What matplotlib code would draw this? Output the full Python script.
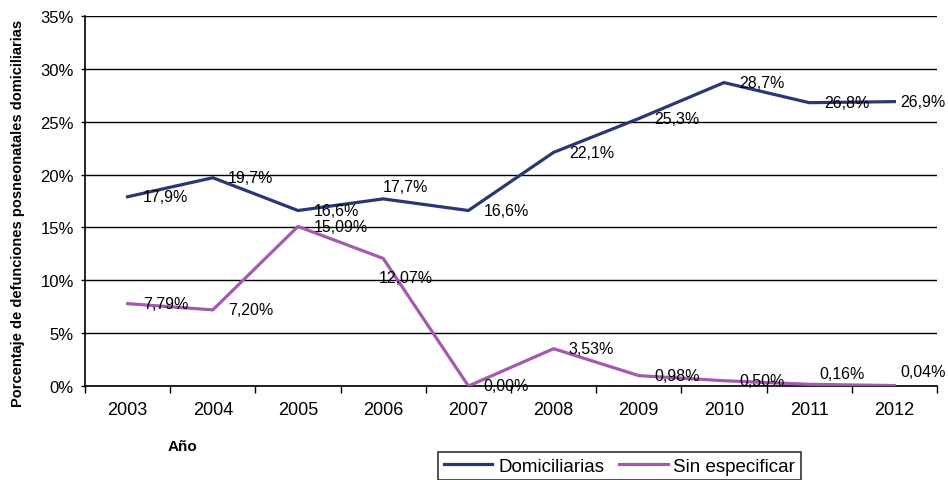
import matplotlib
matplotlib.use("Agg")
import matplotlib.pyplot as plt
from matplotlib.ticker import FixedLocator, FuncFormatter

plt.rcParams['font.family'] = ['Liberation Sans', 'DejaVu Sans']

# Data
years = ['2003', '2004', '2005', '2006', '2007', '2008', '2009', '2010', '2011', '2012']
domiciliarias = [17.9, 19.7, 16.6, 17.7, 16.6, 22.1, 25.3, 28.7, 26.8, 26.9]
sin_especificar = [7.79, 7.20, 15.09, 12.07, 0.00, 3.53, 0.98, 0.50, 0.16, 0.04]
dom_labels = ['17,9%', '19,7%', '16,6%', '17,7%', '16,6%', '22,1%', '25,3%', '28,7%', '26,8%', '26,9%']
sin_labels = ['7,79%', '7,20%', '15,09%', '12,07%', '0,00%', '3,53%', '0,98%', '0,50%', '0,16%', '0,04%']

# Label offsets in points (dx, dy) relative to each point
dom_off = [(11, 0), (11, 0), (11, 0), (0, 9), (11, 0), (11, 0), (11, 0), (11, 0), (11, 0), (4, 0)]
sin_off = [(11, 0), (11, 0), (11, 0), (-3, -14), (11, 0), (11, 0), (11, 0), (11, 0), (7, 8), (4, 10)]

col_dom = '#2B3674'
col_sin = '#A35BAE'

fig = plt.figure(figsize=(9.48, 4.81), dpi=100)
ax = fig.add_axes([85 / 948, 1 - 387 / 481, (937 - 85) / 948, (387 - 17) / 481])

x = list(range(len(years)))
ax.plot(x, domiciliarias, color=col_dom, lw=2.3, label='Domiciliarias', zorder=3)
ax.plot(x, sin_especificar, color=col_sin, lw=2.3, label='Sin especificar', zorder=3)

for xi, v, t, (dx, dy) in zip(x, domiciliarias, dom_labels, dom_off):
    ax.annotate(t, (xi, v), xytext=(dx, dy), textcoords='offset points',
                ha='left', va='center', fontsize=11.5, color='black', zorder=4)
for xi, v, t, (dx, dy) in zip(x, sin_especificar, sin_labels, sin_off):
    ax.annotate(t, (xi, v), xytext=(dx, dy), textcoords='offset points',
                ha='left', va='center', fontsize=11.5, color='black', zorder=4)

ax.set_xlim(-0.5, 9.5)
ax.set_ylim(0, 35)

# Y axis
ax.yaxis.set_major_locator(FixedLocator([0, 5, 10, 15, 20, 25, 30, 35]))
ax.yaxis.set_major_formatter(FuncFormatter(lambda v, p: f'{int(v)}%'))
ax.tick_params(axis='y', length=3, width=1, pad=5, labelsize=12, colors='black')
ax.grid(axis='y', color='black', lw=1, zorder=1)

# X axis: labels at categories, ticks at boundaries
ax.xaxis.set_major_locator(FixedLocator(x))
ax.set_xticklabels(years)
ax.xaxis.set_minor_locator(FixedLocator([i - 0.5 for i in range(len(years) + 1)]))
ax.tick_params(axis='x', which='major', length=0, pad=11, labelsize=13)
ax.tick_params(axis='x', which='minor', length=5, width=1, direction='out')

for s in ['top', 'right']:
    ax.spines[s].set_visible(False)
ax.spines['left'].set_linewidth(1.2)
ax.spines['bottom'].set_linewidth(1.2)

fig.text(18 / 948, 1 - 213 / 481, 'Porcentaje de defunciones posneonatales domiciliarias',
         rotation=90, ha='center', va='center', fontsize=10.5, fontweight='bold')
fig.text(183 / 948, 1 - 447 / 481, 'Año', ha='center', va='center',
         fontsize=11, fontweight='bold')

leg = fig.legend(loc='upper left', bbox_to_anchor=(438 / 948, 1 - 453 / 481),
                 ncol=2, fontsize=13.5, frameon=True, fancybox=False,
                 edgecolor='black', handlelength=2.6, handletextpad=0.3,
                 columnspacing=0.8, borderpad=0.3, borderaxespad=0)
leg.get_frame().set_linewidth(1.2)

fig.savefig('out.png', dpi=100)
